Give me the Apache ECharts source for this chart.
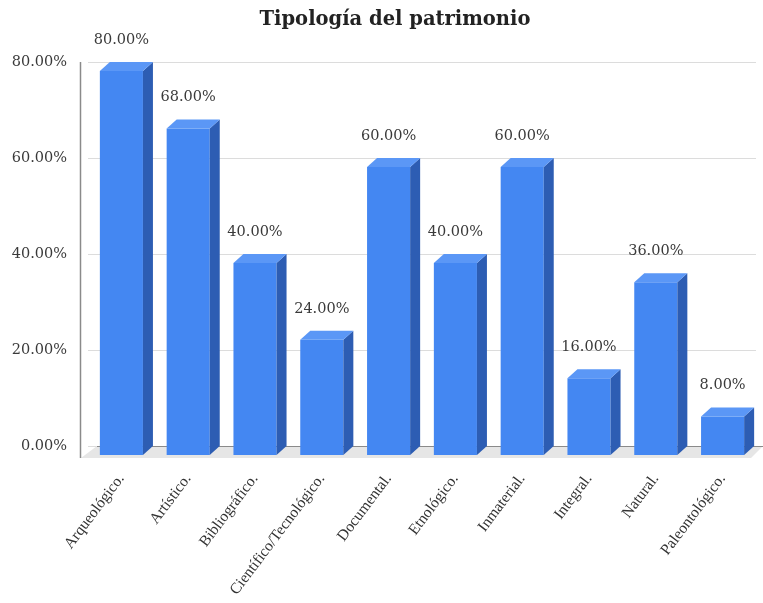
<!DOCTYPE html>
<html>
<head>
<meta charset="utf-8">
<script src="https://cdn.jsdelivr.net/npm/echarts@6/dist/echarts.min.js"></script>
<style>html,body{margin:0;padding:0;background:#fff}#c{width:763px;height:603px}</style>
</head>
<body>
<div id="c"></div>
<script>
const categories = ['Arqueológico.', 'Artístico.', 'Bibliográfico.', 'Científico/Tecnológico.', 'Documental.', 'Etnológico.', 'Inmaterial.', 'Integral.', 'Natural.', 'Paleontológico.'];
const values = [80, 68, 40, 24, 60, 40, 60, 16, 36, 8];
const yTicks = [0, 20, 40, 60, 80];

const chart = echarts.init(document.getElementById('c'));
const DX = 10, DY = 9;
const FRONT = '#4487f2', SIDE = '#2d5db3', TOP = '#5b97f6';

chart.setOption({
  animation: false,
  backgroundColor: '#fff',
  title: {
    text: 'Tipología del patrimonio',
    left: 390, textAlign: 'center', top: 5,
    textStyle: { fontFamily: 'DejaVu Serif', fontWeight: 'bold', fontSize: 19.5, color: '#222' }
  },
  grid: { left: 88, right: 7, top: 62, bottom: 157 },
  xAxis: {
    type: 'category', data: categories,
    axisLine: { show: false }, axisTick: { show: false },
    axisLabel: { rotate: 53, margin: 30, interval: 0, fontFamily: 'Liberation Serif', fontSize: 15.5, color: '#333' }
  },
  yAxis: {
    type: 'value', min: yTicks[0], max: yTicks[yTicks.length - 1], interval: 20,
    axisLine: { show: false }, axisTick: { show: false },
    splitLine: { lineStyle: { color: '#dcdcdc', width: 1 } },
    axisLabel: { margin: 21, fontFamily: 'DejaVu Serif', fontSize: 14.5, color: '#3a3a3a',
      formatter: v => v.toFixed(2) + '%' }
  },
  series: [
    {
      type: 'custom', z: 1, silent: true,
      data: [[0]],
      renderItem(params, api) {
        const cs = params.coordSys;
        const bx = cs.x, by = cs.y + cs.height;
        return {
          type: 'group',
          children: [
            { type: 'polygon', shape: { points: [[bx + 9, by], [cs.x + cs.width + 7, by], [cs.x + cs.width - 5, by + 12], [bx - 7, by + 12]] },
              style: { fill: '#e6e6e6' } },
            { type: 'line', shape: { x1: bx + 9, y1: by + 0.5, x2: cs.x + cs.width + 7, y2: by + 0.5 }, style: { stroke: '#8a8a8a', lineWidth: 1 } },
            { type: 'line', shape: { x1: bx - 7.5, y1: cs.y, x2: bx - 7.5, y2: by + 12 }, style: { stroke: '#8a8a8a', lineWidth: 1.5 } }
          ]
        };
      }
    },
    {
      type: 'custom', z: 5,
      data: values.map((v, i) => [i, v]),
      renderItem(params, api) {
        const i = api.value(0), v = api.value(1);
        const top = api.coord([i, v]);
        const base = api.coord([i, 0]);
        const bw = api.size([1, 0])[0] * 0.645;
        const x = top[0] - bw / 2, y = top[1] + DY, h = base[1] - top[1];
        return {
          type: 'group',
          children: [
            { type: 'rect', shape: { x: x, y: y, width: bw, height: h }, style: { fill: FRONT } },
            { type: 'polygon', shape: { points: [[x + bw, y], [x + bw + DX, y - DY], [x + bw + DX, y - DY + h], [x + bw, y + h]] }, style: { fill: SIDE } },
            { type: 'polygon', shape: { points: [[x, y], [x + DX, y - DY], [x + bw + DX, y - DY], [x + bw, y]] }, style: { fill: TOP } },
            { type: 'text', x: top[0], y: top[1] - 22,
              style: { text: v.toFixed(2) + '%', align: 'center', verticalAlign: 'middle',
                font: '14.5px "DejaVu Serif"', fill: '#3a3a3a' } }
          ]
        };
      }
    }
  ]
});
</script>
</body>
</html>
